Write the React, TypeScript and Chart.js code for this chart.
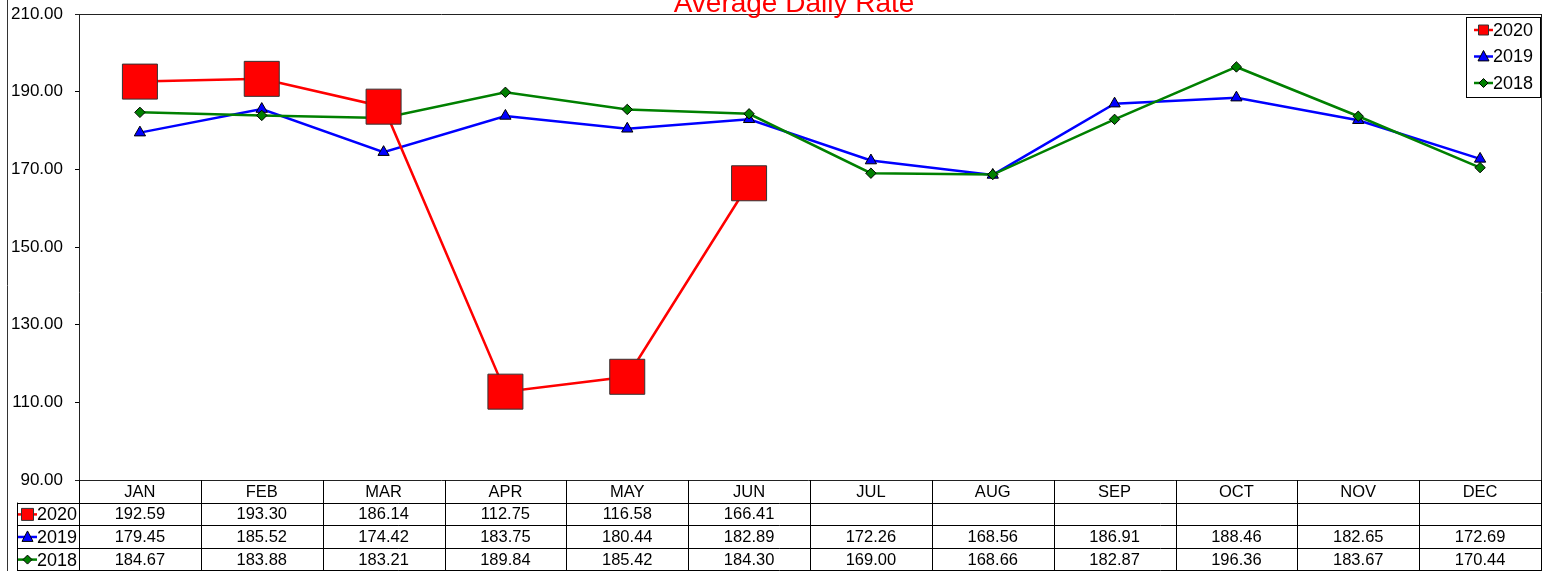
import React, { useEffect, useRef } from 'react';
import { Chart, registerables } from 'chart.js';

Chart.register(...registerables);

const chartTitle = 'Average Daily Rate';
const months = ['JAN', 'FEB', 'MAR', 'APR', 'MAY', 'JUN', 'JUL', 'AUG', 'SEP', 'OCT', 'NOV', 'DEC'];
const seriesNames = ['2020', '2019', '2018'];
const values2020: (number | null)[] = [192.59, 193.3, 186.14, 112.75, 116.58, 166.41, null, null, null, null, null, null];
const values2019: (number | null)[] = [179.45, 185.52, 174.42, 183.75, 180.44, 182.89, 172.26, 168.56, 186.91, 188.46, 182.65, 172.69];
const values2018: (number | null)[] = [184.67, 183.88, 183.21, 189.84, 185.42, 184.3, 169.0, 168.66, 182.87, 196.36, 183.67, 170.44];
const yMin = 90;
const yMax = 210;
const yStep = 20;

const FONT = '"Liberation Sans", Arial, sans-serif';

const seriesStyles = [
  { color: '#FF0000', marker: 'square', fill: '#FF0000', stroke: '#333333' },
  { color: '#0000FF', marker: 'triangle', fill: '#0000FF', stroke: '#000000' },
  { color: '#008000', marker: 'diamond', fill: '#008000', stroke: '#000000' },
];
const seriesValues = [values2020, values2019, values2018];

function drawMarker(ctx: CanvasRenderingContext2D, kind: string, x: number, y: number, s: number, fill: string, stroke: string) {
  ctx.beginPath();
  if (kind === 'square') {
    ctx.rect(x - s / 2, y - s / 2, s, s);
  } else if (kind === 'triangle') {
    ctx.moveTo(x, y - s * 0.55);
    ctx.lineTo(x + s / 2, y + s * 0.4);
    ctx.lineTo(x - s / 2, y + s * 0.4);
    ctx.closePath();
  } else {
    ctx.moveTo(x, y - s / 2);
    ctx.lineTo(x + s / 2, y);
    ctx.lineTo(x, y + s / 2);
    ctx.lineTo(x - s / 2, y);
    ctx.closePath();
  }
  ctx.fillStyle = fill;
  ctx.fill();
  ctx.lineWidth = 1;
  ctx.strokeStyle = stroke;
  ctx.stroke();
}

function legendSample(ctx: CanvasRenderingContext2D, i: number, x0: number, x1: number, y: number, s: number) {
  const st = seriesStyles[i];
  ctx.beginPath();
  ctx.strokeStyle = st.color;
  ctx.lineWidth = 2.5;
  ctx.moveTo(x0, y);
  ctx.lineTo(x1, y);
  ctx.stroke();
  drawMarker(ctx, st.marker, (x0 + x1) / 2, y, s, st.fill, st.stroke);
}

const decorPlugin = {
  id: 'decor',
  afterDraw(chart: any) {
    const ctx: CanvasRenderingContext2D = chart.ctx;
    const area = chart.chartArea;
    const xs = chart.scales.x;
    const n = months.length;
    const colW = xs.getPixelForValue(1) - xs.getPixelForValue(0);
    const rowH = 22.6;
    const legendLeft = 17;
    ctx.save();

    // plot border
    ctx.strokeStyle = '#222';
    ctx.lineWidth = 1;
    ctx.beginPath();
    ctx.moveTo(area.left - 4, Math.round(area.top) + 0.5);
    ctx.lineTo(area.right + 0.5, Math.round(area.top) + 0.5);
    ctx.moveTo(Math.round(area.left) + 0.5, area.top);
    ctx.lineTo(Math.round(area.left) + 0.5, area.bottom + 4 * rowH);
    ctx.moveTo(Math.round(area.right) + 0.5, area.top);
    ctx.lineTo(Math.round(area.right) + 0.5, chart.height);
    ctx.moveTo(area.left - 4, Math.round(area.bottom) + 0.5);
    ctx.lineTo(area.right + 0.5, Math.round(area.bottom) + 0.5);
    ctx.stroke();

    // outer left frame line
    ctx.beginPath();
    ctx.strokeStyle = '#333';
    ctx.moveTo(7.5, 0);
    ctx.lineTo(7.5, chart.height);
    ctx.stroke();

    // table grid
    ctx.strokeStyle = '#000';
    ctx.beginPath();
    for (let k = 1; k <= 4; k++) {
      const y = Math.round(area.bottom + k * rowH) + 0.5;
      ctx.moveTo(legendLeft, y);
      ctx.lineTo(area.right + 0.5, y);
    }
    for (let k = 0; k <= n; k++) {
      const x = Math.round(xs.getPixelForValue(0) - colW / 2 + k * colW) + 0.5;
      ctx.moveTo(x, area.bottom);
      ctx.lineTo(x, area.bottom + 4 * rowH);
    }
    ctx.moveTo(legendLeft + 0.5, area.bottom + rowH);
    ctx.lineTo(legendLeft + 0.5, area.bottom + 4 * rowH);
    ctx.stroke();

    // table text
    ctx.fillStyle = '#000';
    ctx.font = `16.5px ${FONT}`;
    ctx.textAlign = 'center';
    ctx.textBaseline = 'middle';
    months.forEach((m, i) => {
      ctx.fillText(m, xs.getPixelForValue(i), area.bottom + rowH / 2 + 1);
    });
    seriesValues.forEach((vals, r) => {
      const yc = area.bottom + rowH * (r + 1) + rowH / 2 + 1;
      vals.forEach((v, i) => {
        if (v !== null) ctx.fillText(v.toFixed(2), xs.getPixelForValue(i), yc);
      });
    });

    // table legend cells
    ctx.textAlign = 'left';
    ctx.font = `18px ${FONT}`;
    seriesNames.forEach((name, r) => {
      const yc = area.bottom + rowH * (r + 1) + rowH / 2 + 0.5;
      legendSample(ctx, r, legendLeft + 1, 37, yc, r === 0 ? 12 : r === 1 ? 11 : 9);
      ctx.fillStyle = '#000';
      ctx.fillText(name, 37, yc + 1);
    });

    // top-right legend
    const lx = 1466.5, ly = 17.5, lw = 74, lh = 80;
    ctx.fillStyle = '#fff';
    ctx.fillRect(lx, ly, lw, lh);
    ctx.strokeStyle = '#000';
    ctx.lineWidth = 1;
    ctx.strokeRect(lx, ly, lw, lh);
    ctx.font = `18px ${FONT}`;
    seriesNames.forEach((name, r) => {
      const yc = 30 + r * 26.5;
      legendSample(ctx, r, 1474, 1493, yc, r === 0 ? 10 : r === 1 ? 11 : 9);
      ctx.fillStyle = '#000';
      ctx.textAlign = 'left';
      ctx.fillText(name, 1493, yc + 1);
    });

    // title
    ctx.fillStyle = '#FF0000';
    ctx.font = `28px ${FONT}`;
    ctx.textAlign = 'center';
    ctx.textBaseline = 'alphabetic';
    ctx.fillText(chartTitle, 794, 12);

    ctx.restore();
  },
};

export default function App() {
  const ref = useRef<HTMLCanvasElement | null>(null);
  useEffect(() => {
    if (!ref.current) return;
    const chart = new Chart(ref.current, {
      type: 'line',
      data: {
        labels: months,
        datasets: [
          {
            label: seriesNames[0],
            data: values2020,
            borderColor: seriesStyles[0].color,
            borderWidth: 2.5,
            pointStyle: 'rect',
            pointRadius: 24.75,
            pointBackgroundColor: seriesStyles[0].fill,
            pointBorderColor: seriesStyles[0].stroke,
            pointBorderWidth: 1,
            tension: 0,
            order: 0,
          },
          {
            label: seriesNames[1],
            data: values2019,
            borderColor: seriesStyles[1].color,
            borderWidth: 2.5,
            pointStyle: 'triangle',
            pointRadius: 6.5,
            pointBackgroundColor: seriesStyles[1].fill,
            pointBorderColor: seriesStyles[1].stroke,
            pointBorderWidth: 1,
            tension: 0,
            order: 2,
          },
          {
            label: seriesNames[2],
            data: values2018,
            borderColor: seriesStyles[2].color,
            borderWidth: 2.5,
            pointStyle: 'rectRot',
            pointRadius: 5.2,
            pointBackgroundColor: seriesStyles[2].fill,
            pointBorderColor: seriesStyles[2].stroke,
            pointBorderWidth: 1,
            tension: 0,
            order: 1,
          },
        ],
      },
      options: {
        responsive: false,
        animation: false,
        devicePixelRatio: 1,
        layout: { autoPadding: false, padding: { left: 0, top: 14, right: 15, bottom: 91 } },
        plugins: {
          legend: { display: false },
          title: { display: false },
          tooltip: { enabled: false },
        },
        scales: {
          x: {
            type: 'category',
            display: false,
            offset: true,
          },
          y: {
            min: yMin,
            max: yMax,
            afterFit: (scale: any) => {
              scale.width = 79;
              scale.paddingTop = 0;
              scale.paddingBottom = 0;
            },
            ticks: {
              stepSize: yStep,
              padding: 12,
              color: '#000',
              font: { size: 17, family: FONT },
              callback: (v: any) => Number(v).toFixed(2),
            },
            grid: {
              drawOnChartArea: false,
              drawTicks: true,
              tickLength: 4,
              color: '#000',
            },
            border: { display: false },
          },
        },
      },
      plugins: [decorPlugin],
    });
    return () => chart.destroy();
  }, []);
  return (
    <div style={{ position: 'absolute', left: 0, top: 0, width: 1556, height: 571, background: '#fff' }}>
      <canvas ref={ref} width={1556} height={571} style={{ display: 'block' }} />
    </div>
  );
}
